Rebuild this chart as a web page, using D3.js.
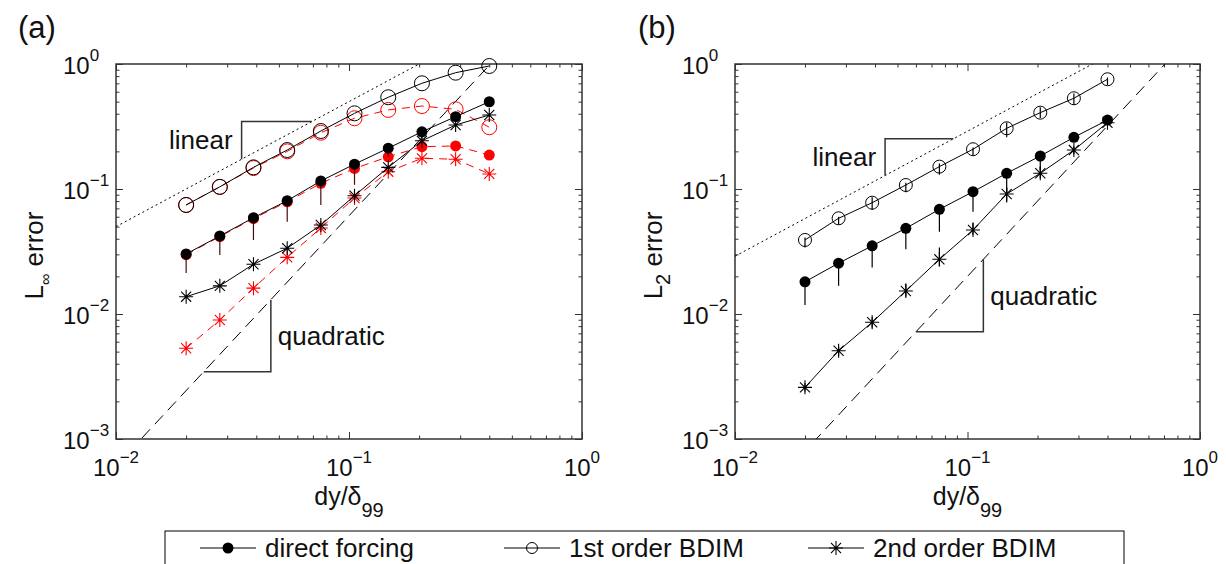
<!DOCTYPE html>
<html>
<head>
<meta charset="utf-8">
<script src="https://cdn.jsdelivr.net/npm/d3@7"></script>
<style>
  body { margin: 0; background: #fff; }
  svg { font-family: "Liberation Sans", Arial, sans-serif; }
</style>
</head>
<body>
<svg id="chart" width="1226" height="564"></svg>
<script>
// grid spacing dy/delta99 (same for both panels)
let dx = [0.02, 0.0279, 0.0389, 0.0543, 0.0757, 0.1056, 0.1474, 0.2056, 0.2868, 0.4];

// panel (a): L-infinity error
let aDirect = [0.0302, 0.0421, 0.0589, 0.0806, 0.116, 0.158, 0.212, 0.287, 0.379, 0.499];
let aDirectLo = [0.0213, 0.0296, 0.0391, 0.0548, 0.0745, 0.108, 0.18, 0.25, 0.36, 0.48];
let aDirectRed = [0.0298, 0.0416, 0.058, 0.079, 0.111, 0.146, 0.181, 0.218, 0.221, 0.187];
let aFirst = [0.0745, 0.104, 0.149, 0.205, 0.291, 0.403, 0.542, 0.701, 0.852, 0.964];
let aFirstRed = [0.0745, 0.104, 0.147, 0.2, 0.282, 0.368, 0.429, 0.461, 0.434, 0.312];
let aSecond = [0.01375, 0.0168, 0.025, 0.0336, 0.0515, 0.0884, 0.149, 0.243, 0.325, 0.391];
let aSecondRed = [0.00532, 0.00895, 0.0161, 0.0284, 0.0488, 0.0847, 0.1375, 0.176, 0.173, 0.132];

// panel (b): L2 error
let bDirect = [0.0181, 0.0255, 0.0351, 0.0485, 0.0688, 0.0951, 0.1336, 0.1837, 0.259, 0.356];
let bDirectLo = [0.0118, 0.0168, 0.0236, 0.033, 0.0455, 0.0658, 0.0929, 0.142, 0.238, 0.35];
let bFirst = [0.0391, 0.0583, 0.0777, 0.1076, 0.151, 0.208, 0.306, 0.408, 0.532, 0.755];
let bFirstLo = [0.034, 0.052, 0.068, 0.094, 0.13, 0.186, 0.26, 0.37, 0.47, 0.68];
let bFirstHi = [0.041, 0.06, 0.086, 0.112, 0.16, 0.215, 0.34, 0.45, 0.58, 0.78];
let bSecond = [0.00259, 0.00508, 0.00859, 0.01528, 0.0274, 0.047, 0.0912, 0.1336, 0.205, 0.339];
let bSecondLo = [0.0024, 0.0046, 0.0078, 0.0138, 0.024, 0.043, 0.078, 0.122, 0.19, 0.33];
let bSecondHi = [0.0028, 0.0055, 0.0094, 0.0175, 0.034, 0.054, 0.102, 0.15, 0.22, 0.35];

// reference slopes: error = c * dy^p
let refA = [{c: 5, p: 1, dash: "2,3"}, {c: 6.1, p: 2, dash: "12,7"}];
let refB = [{c: 2.9, p: 1, dash: "2,3"}, {c: 2, p: 2, dash: "12,7"}];

// slope triangles [x start, x end] on the reference line
let triA = [{x: [0.0346, 0.0692], p: 1, label: "linear"}, {x: [0.0238, 0.0462], p: 2, label: "quadratic"}];
let triB = [{x: [0.0442, 0.0869], p: 1, label: "linear"}, {x: [0.06, 0.117], p: 2, label: "quadratic"}];

let xTicks = [-2, -1, 0];
let yTicks = [-3, -2, -1, 0];

let legendItems = [
  {label: "direct forcing", marker: "dot"},
  {label: "1st order BDIM", marker: "ring"},
  {label: "2nd order BDIM", marker: "star"}
];

let svg = d3.select("#chart");
let top0 = 64, bottom0 = 439;

let panels = [
  {
    tag: "(a)", tagX: 18, left: 116, right: 582, sub: "∞", ref: refA, tri: triA,
    barColor: "#4a0c0c", ringR: 7.5,
    series: [
      {ys: aFirstRed, color: "#ff0000", dash: "8,6", marker: "ring"},
      {ys: aDirectRed, color: "#ff0000", dash: "8,6", marker: "dot"},
      {ys: aSecondRed, color: "#ff0000", dash: "8,6", marker: "star"},
      {ys: aFirst, color: "#000", marker: "ring"},
      {ys: aDirect, color: "#000", marker: "dot", lo: aDirectLo},
      {ys: aSecond, color: "#000", marker: "star"}
    ]
  },
  {
    tag: "(b)", tagX: 638, left: 735, right: 1200, sub: "2", ref: refB, tri: triB,
    barColor: "#000", ringR: 6.5,
    series: [
      {ys: bFirst, color: "#000", marker: "ring", lo: bFirstLo, hi: bFirstHi},
      {ys: bDirect, color: "#000", marker: "dot", lo: bDirectLo},
      {ys: bSecond, color: "#000", marker: "star", lo: bSecondLo, hi: bSecondHi}
    ]
  }
];

let starPath = (s) => `M${-s},0H${s}M0,${-s}V${s}M${-s * 0.72},${-s * 0.72}L${s * 0.72},${s * 0.72}M${-s * 0.72},${s * 0.72}L${s * 0.72},${-s * 0.72}`;

let drawMarker = (g, kind, color, r) => {
  if (kind === "dot") {
    g.append("circle").attr("r", 5.5).attr("fill", color);
  } else if (kind === "ring") {
    g.append("circle").attr("r", r).attr("fill", "none").attr("stroke", color).attr("stroke-width", 1);
  } else {
    g.append("path").attr("d", starPath(7)).attr("stroke", color).attr("stroke-width", 1.1).attr("fill", "none");
  }
};

// "10" with a raised exponent
let powerLabel = (g, exp) => {
  g.append("tspan").text("10");
  g.append("tspan")
    .attr("font-size", 17)
    .attr("dy", -13)
    .text(exp < 0 ? "\u2212" + (-exp) : exp);
};

let drawPanel = (cfg, idx) => {
  let x = d3.scaleLog().domain([0.01, 1]).range([cfg.left, cfg.right]);
  let y = d3.scaleLog().domain([0.001, 1]).range([bottom0, top0]);
  let g = svg.append("g").attr("class", "panel-" + idx);

  let clipId = "clip" + idx;
  g.append("clipPath").attr("id", clipId)
    .append("rect")
    .attr("x", cfg.left).attr("y", top0)
    .attr("width", cfg.right - cfg.left).attr("height", bottom0 - top0);

  // minor + major ticks, pointing inward on all four sides
  let minorX = x.ticks().filter(v => Math.abs(Math.log10(v) % 1) > 1e-6);
  let minorY = y.ticks().filter(v => Math.abs(Math.log10(v) % 1) > 1e-6);
  let majorX = xTicks.map(e => Math.pow(10, e));
  let majorY = yTicks.map(e => Math.pow(10, e));

  let axes = [
    [d3.axisBottom(x), `translate(0,${bottom0})`, minorX, majorX],
    [d3.axisTop(x), `translate(0,${top0})`, minorX, majorX],
    [d3.axisLeft(y), `translate(${cfg.left},0)`, minorY, majorY],
    [d3.axisRight(y), `translate(${cfg.right},0)`, minorY, majorY]
  ];
  axes.forEach(([ax, tr, minor, major]) => {
    [[minor, -3.5], [major, -7]].forEach(([vals, len]) => {
      g.append("g")
        .attr("transform", tr)
        .call(ax.tickValues(vals).tickSize(len).tickFormat(""))
        .call(a => a.select(".domain").remove())
        .call(a => a.selectAll("line").attr("stroke", "#333").attr("stroke-width", 1));
    });
  });

  g.append("rect")
    .attr("x", cfg.left).attr("y", top0)
    .attr("width", cfg.right - cfg.left).attr("height", bottom0 - top0)
    .attr("fill", "none").attr("stroke", "#333").attr("stroke-width", 1.5);

  // tick labels
  xTicks.forEach(e => {
    let t = g.append("text")
      .attr("x", x(Math.pow(10, e))).attr("y", 476)
      .attr("text-anchor", "middle").attr("font-size", 24).attr("fill", "#111");
    powerLabel(t, e);
  });
  yTicks.forEach(e => {
    let t = g.append("text")
      .attr("x", cfg.left - 53).attr("y", y(Math.pow(10, e)) + 10)
      .attr("font-size", 24).attr("fill", "#111");
    powerLabel(t, e);
  });

  // axis titles
  let xl = g.append("text")
    .attr("x", (cfg.left + cfg.right) / 2).attr("y", 505)
    .attr("text-anchor", "middle").attr("font-size", 25).attr("fill", "#111");
  xl.append("tspan").text("dy/\u03b4");
  xl.append("tspan").attr("font-size", 20).attr("dy", 12).text("99");

  let yl = g.append("text")
    .attr("transform", `translate(${cfg.left - 73},${(top0 + bottom0) / 2 + 4}) rotate(-90)`)
    .attr("text-anchor", "middle").attr("font-size", 26).attr("fill", "#111");
  yl.append("tspan").text("L");
  yl.append("tspan").attr("font-size", cfg.sub === "2" ? 20 : 16).attr("dy", 8).text(cfg.sub);
  yl.append("tspan").attr("dy", -8).text(" error");

  g.append("text")
    .attr("x", cfg.tagX).attr("y", 38)
    .attr("font-size", 31).attr("fill", "#111")
    .text(cfg.tag);

  // reference slope lines
  let plot = g.append("g").attr("clip-path", `url(#${clipId})`);
  cfg.ref.forEach(r => {
    let pts = [0.01, 1].map(v => [v, r.c * Math.pow(v, r.p)]);
    plot.append("path")
      .attr("d", d3.line().x(d => x(d[0])).y(d => y(d[1]))(pts))
      .attr("fill", "none").attr("stroke", "#000").attr("stroke-width", 1)
      .attr("stroke-dasharray", r.dash);
  });

  // slope triangles + labels
  cfg.tri.forEach(tr => {
    let r = cfg.ref.find(d => d.p === tr.p);
    let f = v => r.c * Math.pow(v, r.p);
    let pts;
    if (tr.p === 1) {
      pts = [[tr.x[0], f(tr.x[0])], [tr.x[0], f(tr.x[1])], [tr.x[1], f(tr.x[1])]];
    } else {
      pts = [[tr.x[0], f(tr.x[0])], [tr.x[1], f(tr.x[0])], [tr.x[1], f(tr.x[1])]];
    }
    g.append("path")
      .attr("d", d3.line().x(d => x(d[0])).y(d => y(d[1]))(pts))
      .attr("fill", "none").attr("stroke", "#333").attr("stroke-width", 1.5);
    let midY = (y(f(tr.x[0])) + y(f(tr.x[1]))) / 2;
    g.append("text")
      .attr("x", tr.p === 1 ? x(tr.x[0]) - 9 : x(tr.x[1]) + 7)
      .attr("y", midY + 9)
      .attr("text-anchor", tr.p === 1 ? "end" : "start")
      .attr("font-size", 26).attr("fill", "#111")
      .text(tr.label);
  });

  // data series
  let line = d3.line().x(d => x(d[0])).y(d => y(d[1]));
  cfg.series.forEach(s => {
    let pts = dx.map((v, i) => [v, s.ys[i]]);
    let sg = g.append("g");
    sg.append("path")
      .attr("d", line(pts))
      .attr("fill", "none").attr("stroke", s.color).attr("stroke-width", 1)
      .attr("stroke-dasharray", s.dash || null);
    if (s.lo) {
      sg.selectAll("line.bar")
        .data(dx.map((v, i) => [v, s.lo[i], s.hi ? s.hi[i] : s.ys[i]]))
        .enter()
        .append("line")
        .attr("x1", d => x(d[0])).attr("x2", d => x(d[0]))
        .attr("y1", d => y(d[1])).attr("y2", d => y(d[2]))
        .attr("stroke", cfg.barColor).attr("stroke-width", 1.2);
    }
    sg.selectAll("g.mk")
      .data(pts)
      .enter()
      .append("g")
      .attr("transform", d => `translate(${x(d[0])},${y(d[1])})`)
      .each(function() { drawMarker(d3.select(this), s.marker, s.color, cfg.ringR); });
  });
};

panels.forEach(drawPanel);

// legend
let legend = svg.append("g").attr("class", "legend");
legend.append("rect")
  .attr("x", 165).attr("y", 531).attr("width", 959).attr("height", 45)
  .attr("fill", "#fff").attr("stroke", "#000").attr("stroke-width", 1);

let legendX = d3.scalePoint().domain(legendItems.map(d => d.label)).range([200, 808]);
legendItems.forEach(item => {
  let lg = legend.append("g").attr("transform", `translate(${legendX(item.label)},548)`);
  lg.append("line").attr("x1", 0).attr("x2", 56).attr("stroke", "#000").attr("stroke-width", 1);
  drawMarker(lg.append("g").attr("transform", "translate(28,0)"), item.marker, "#000", 5.5);
  lg.append("text").attr("x", 65).attr("y", 9).attr("font-size", 26).attr("fill", "#111").text(item.label);
});
</script>
</body>
</html>
